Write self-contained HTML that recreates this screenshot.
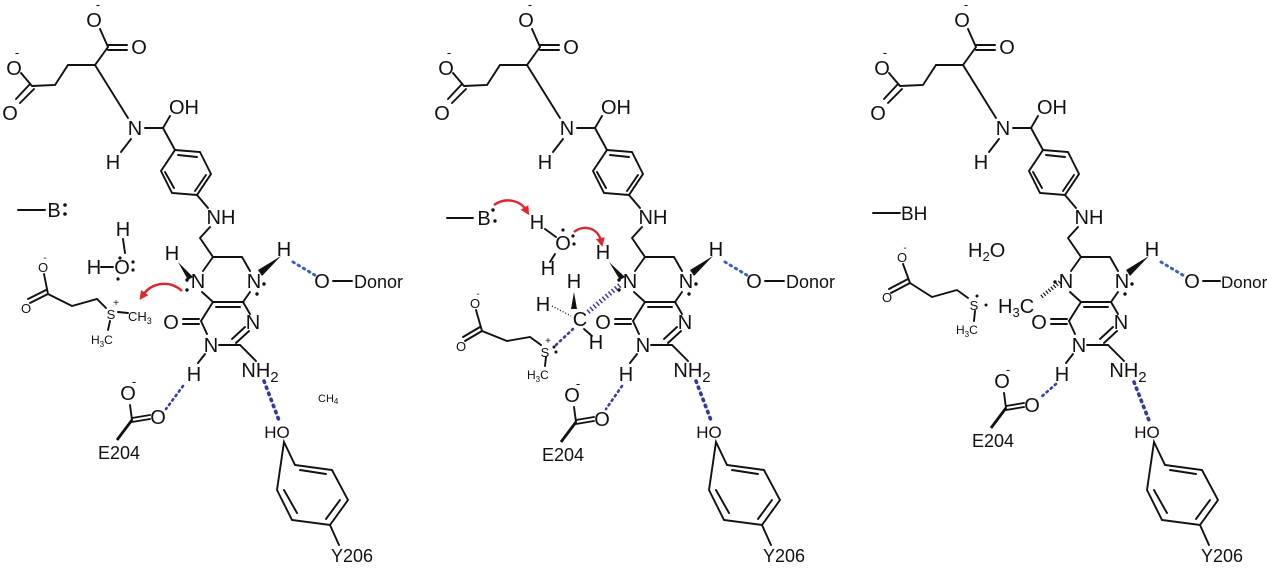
<!DOCTYPE html>
<html><head><meta charset="utf-8"><style>
html,body{margin:0;padding:0;background:#fff;}
svg{display:block;font-family:"Liberation Sans",Arial,sans-serif;}
.b{stroke:#111;stroke-width:1.9;fill:none;stroke-linecap:round}
.t{font-size:20px;fill:#111;text-anchor:middle}
.s{font-size:13px;fill:#111;text-anchor:middle}
.hb{stroke:#3a62c0;stroke-width:3;stroke-dasharray:1.5,4.5;fill:none;stroke-linecap:round}
.hn{stroke:#3a3f9e;stroke-width:2.6;stroke-dasharray:1.5,4;fill:none;stroke-linecap:round}
.hn2{stroke:#333a9e;stroke-width:3.6;stroke-dasharray:1.5,5;fill:none;stroke-linecap:round}
.r{stroke:#e0262a;stroke-width:2.4;fill:none}
</style></head><body>
<svg width="1267" height="568" viewBox="0 0 1267 568" xmlns="http://www.w3.org/2000/svg">
<defs>
<marker id="ah" markerUnits="userSpaceOnUse" markerWidth="9" markerHeight="9" refX="3" refY="4.5" orient="auto"><path d="M0,0 L9,4.5 L0,9 z" fill="#e0262a"/></marker>
</defs>

<!-- ================= PANEL 1 ================= -->
<g id="p1">
<text class="t" x="94" y="27">O</text><text class="s" x="98" y="9">-</text>
<path class="b" d="M108,47 L100,29 M108,45 L127,45 M108,50 L127,50 M108,47 L95,65 L68,65 L55,85 L32,86 M32,86 L21,73 M30,84 L16,99 M34,89 L20,103 M95,65 L128,118"/>
<text class="t" x="139" y="54">O</text>
<text class="t" x="14" y="75">O</text><text class="s" x="17" y="57">-</text>
<text class="t" x="10" y="120">O</text>
<text class="t" x="135" y="135">N</text>
<path class="b" d="M131,139 L121,152 M145,128 L163,128 L170,116 M163,128 L175,150"/>
<text class="t" x="113" y="169">H</text>
<text class="t" x="184" y="114">OH</text>
<path class="b" d="M175,150 L200,152 L211,174 L197,195 L172,193 L161,171 Z M178,155 L197,157 M206,175 L195,191 M174,188 L165,172 M197,195 L208,208"/>
<text class="t" x="221" y="224">NH</text>
<path class="b" d="M210,227 L200,238 L213,257 L242,257 L250,271 M213,257 L203,271 M202,292 L213,302 L243,302 L250,292 M216,307 L240,307 M213,302 L201,321 L207,334 M243,302 L250,314 M236,343 L249,331 M232,339 L245,327 M219,345 L240,345 L256,361 M199,319 L183,319 M199,324 L183,324 M205,354 L198,363"/>
<text class="t" x="198" y="288">N</text>
<text class="t" x="254" y="288">N</text>
<circle cx="264" cy="284" r="1.7" fill="#111"/><circle cx="257" cy="294" r="1.7" fill="#111"/>
<circle cx="187" cy="280" r="1.7" fill="#111"/><circle cx="187" cy="290" r="1.7" fill="#111"/>
<text class="t" x="171" y="329">O</text>
<text class="t" x="253" y="329">N</text>
<text class="t" x="211" y="352">N</text>
<text class="t" x="194" y="381">H</text>
<text class="t" x="260" y="377">NH<tspan font-size="15" dy="5">2</tspan></text>
<text class="t" x="284" y="256">H</text>
<path d="M281,256 L262,276 L258,270 Z" fill="#111"/>
<path class="hb" d="M293,262 L318,277"/>
<text class="t" x="322" y="288">O</text>
<path class="b" d="M333,281 L352,281"/>
<text x="354" y="288" style="font-size:18px;fill:#111">Donor</text>
<text class="t" x="128" y="400">O</text><text class="s" x="134" y="386">-</text>
<path class="b" d="M130,405 L132,420 M132,418 L150,415 M132,422 L150,419"/>
<path d="M132,420 L117,440" stroke="#111" stroke-width="2.8"/>
<text class="t" x="158" y="424">O</text>
<text x="119" y="459" style="font-size:18px;fill:#111;text-anchor:middle">E204</text>
<path class="hn" d="M183,386 L166,409"/>
<path class="hn2" d="M264,381 L280,423"/>
<text x="277" y="438" style="font-size:17px;fill:#111;text-anchor:middle">HO</text>
<path class="b" d="M284,442 L295,465 L332,470 L348,500 L330,525 L292,520 L277,490 Z M300,470 L326,474 M340,500 L326,519 M284,490 L297,513 M330,525 L339,545"/>
<text x="352" y="562" style="font-size:18px;fill:#111;text-anchor:middle">Y206</text>
</g>

<!-- panel 1 specifics -->
<path class="b" d="M18,210 L45,210"/>
<text class="t" x="54" y="217">B</text>
<circle cx="65" cy="205" r="1.8" fill="#111"/><circle cx="65" cy="214" r="1.8" fill="#111"/>
<text class="t" x="123" y="236">H</text>
<path class="b" d="M123,239 L125,253 M101,267 L113,267"/>
<text class="t" x="94" y="274">H</text>
<text class="t" x="122" y="274">O</text>
<circle cx="120" cy="258" r="1.6" fill="#111"/><circle cx="133" cy="262" r="1.6" fill="#111"/><circle cx="133" cy="270" r="1.6" fill="#111"/><circle cx="118" cy="279" r="1.6" fill="#111"/>
<text class="t" x="172" y="260">H</text>
<path d="M178,262 L193,277 L188,280 Z" fill="#111"/>
<path class="r" d="M182,291 C170,280 152,282 143,295" marker-end="url(#ah)"/>
<text class="s" x="43" y="272">O</text><text class="s" x="45" y="261" style="font-size:10px">-</text>
<path class="b" d="M44,274 L48,294 M48,294 L30,303 M46,290 L28,299 M48,294 L72,306 L97,299 L106,308 M118,312 L128,313 M110,321 L108,330"/>
<text class="s" x="26" y="313">O</text>
<text class="s" x="111" y="319">S</text><text class="s" x="116" y="306" style="font-size:10px">+</text>
<text x="128" y="321" style="font-size:13px;fill:#111">CH<tspan font-size="9" dy="3">3</tspan></text>
<text x="91" y="344" style="font-size:12px;fill:#111">H<tspan font-size="8" dy="3">3</tspan><tspan dy="-3">C</tspan></text>
<text x="318" y="402" style="font-size:11px;fill:#111">CH<tspan font-size="8" dy="2">4</tspan></text>

<!-- ================= PANEL 2 ================= -->
<g transform="translate(432,0)">
<text class="t" x="94" y="27">O</text><text class="s" x="98" y="9">-</text>
<path class="b" d="M108,47 L100,29 M108,45 L127,45 M108,50 L127,50 M108,47 L95,65 L68,65 L55,85 L32,86 M32,86 L21,73 M30,84 L16,99 M34,89 L20,103 M95,65 L128,118"/>
<text class="t" x="139" y="54">O</text>
<text class="t" x="14" y="75">O</text><text class="s" x="17" y="57">-</text>
<text class="t" x="10" y="120">O</text>
<text class="t" x="135" y="135">N</text>
<path class="b" d="M131,139 L121,152 M145,128 L163,128 L170,116 M163,128 L175,150"/>
<text class="t" x="113" y="169">H</text>
<text class="t" x="184" y="114">OH</text>
<path class="b" d="M175,150 L200,152 L211,174 L197,195 L172,193 L161,171 Z M178,155 L197,157 M206,175 L195,191 M174,188 L165,172 M197,195 L208,208"/>
<text class="t" x="221" y="224">NH</text>
<path class="b" d="M210,227 L200,238 L213,257 L242,257 L250,271 M213,257 L203,271 M202,292 L213,302 L243,302 L250,292 M216,307 L240,307 M213,302 L201,321 L207,334 M243,302 L250,314 M236,343 L249,331 M232,339 L245,327 M219,345 L240,345 L256,361 M199,319 L183,319 M199,324 L183,324 M205,354 L198,363"/>
<text class="t" x="198" y="288">N</text>
<text class="t" x="254" y="288">N</text>
<circle cx="264" cy="284" r="1.7" fill="#111"/><circle cx="257" cy="294" r="1.7" fill="#111"/>
<circle cx="187" cy="280" r="1.7" fill="#111"/><circle cx="187" cy="290" r="1.7" fill="#111"/>
<text class="t" x="171" y="329">O</text>
<text class="t" x="253" y="329">N</text>
<text class="t" x="211" y="352">N</text>
<text class="t" x="194" y="381">H</text>
<text class="t" x="260" y="377">NH<tspan font-size="15" dy="5">2</tspan></text>
<text class="t" x="284" y="256">H</text>
<path d="M281,256 L262,276 L258,270 Z" fill="#111"/>
<path class="hb" d="M293,262 L318,277"/>
<text class="t" x="322" y="288">O</text>
<path class="b" d="M333,281 L352,281"/>
<text x="354" y="288" style="font-size:18px;fill:#111">Donor</text>
<g transform="translate(12,2)">
<text class="t" x="128" y="400">O</text><text class="s" x="134" y="386">-</text>
<path class="b" d="M130,405 L132,420 M132,418 L150,415 M132,422 L150,419"/>
<path d="M132,420 L117,440" stroke="#111" stroke-width="2.8"/>
<text class="t" x="158" y="424">O</text>
<text x="119" y="459" style="font-size:18px;fill:#111;text-anchor:middle">E204</text>
</g>
<path class="hn" d="M190,386 L174,409"/>
<path class="hn2" d="M264,381 L280,423"/>
<text x="277" y="438" style="font-size:17px;fill:#111;text-anchor:middle">HO</text>
<path class="b" d="M284,442 L295,465 L332,470 L348,500 L330,525 L292,520 L277,490 Z M300,470 L326,474 M340,500 L326,519 M284,490 L297,513 M330,525 L339,545"/>
<text x="352" y="562" style="font-size:18px;fill:#111;text-anchor:middle">Y206</text>
</g>

<!-- panel 2 specifics -->
<path class="b" d="M447,218 L473,218"/>
<text class="t" x="484" y="225">B</text>
<circle cx="493" cy="210" r="1.7" fill="#111"/><circle cx="495" cy="221" r="1.7" fill="#111"/>
<path class="r" d="M494,205 C505,197 520,200 526,210" marker-end="url(#ah)"/>
<text class="t" x="537" y="229">H</text>
<path class="b" d="M545,229 L556,237 M555,254 L550,262"/>
<text class="t" x="563" y="250">O</text>
<circle cx="563" cy="230" r="1.6" fill="#111"/><circle cx="574" cy="244" r="1.6" fill="#111"/><circle cx="573" cy="236" r="1.6" fill="#111"/>
<text class="t" x="548" y="275">H</text>
<path class="r" d="M574,232 C584,224 598,228 601,241" marker-end="url(#ah)"/>
<text class="t" x="603" y="259">H</text>
<path d="M609,262 L625,277 L620,280 Z" fill="#111"/>
<text class="t" x="574" y="288">H</text>
<path d="M574,292 L571,309 L577,309 Z" fill="#111"/>
<text class="t" x="580" y="326">C</text>
<text class="t" x="543" y="311">H</text>
<path d="M552,306 L571,316" stroke="#111" stroke-width="1.3" stroke-dasharray="1,2"/>
<path class="b" d="M584,329 L592,336"/>
<text class="t" x="596" y="349">H</text>
<path d="M588,312 L620,285" stroke="#3a3f9e" stroke-width="5" stroke-dasharray="1.5,2.5" fill="none"/>
<path class="hn" d="M556,345 L573,329"/>
<text class="s" x="475" y="308">O</text><text class="s" x="478" y="297" style="font-size:10px">-</text>
<path class="b" d="M476,310 L482,331 M482,331 L465,341 M480,327 L463,337 M482,331 L507,341 L530,337 L541,345 M546,357 L545,366"/>
<text class="s" x="461" y="351">O</text>
<text class="s" x="545" y="357">S</text><text class="s" x="548" y="344" style="font-size:10px">+</text>
<circle cx="554" cy="347" r="1.5" fill="#111"/><circle cx="556" cy="352" r="1.5" fill="#111"/>
<text x="527" y="379" style="font-size:12px;fill:#111">H<tspan font-size="8" dy="3">3</tspan><tspan dy="-3">C</tspan></text>

<!-- ================= PANEL 3 ================= -->
<g transform="translate(868,0)">
<text class="t" x="94" y="27">O</text><text class="s" x="98" y="9">-</text>
<path class="b" d="M108,47 L100,29 M108,45 L127,45 M108,50 L127,50 M108,47 L95,65 L68,65 L55,85 L32,86 M32,86 L21,73 M30,84 L16,99 M34,89 L20,103 M95,65 L128,118"/>
<text class="t" x="139" y="54">O</text>
<text class="t" x="14" y="75">O</text><text class="s" x="17" y="57">-</text>
<text class="t" x="10" y="120">O</text>
<text class="t" x="135" y="135">N</text>
<path class="b" d="M131,139 L121,152 M145,128 L163,128 L170,116 M163,128 L175,150"/>
<text class="t" x="113" y="169">H</text>
<text class="t" x="184" y="114">OH</text>
<path class="b" d="M175,150 L200,152 L211,174 L197,195 L172,193 L161,171 Z M178,155 L197,157 M206,175 L195,191 M174,188 L165,172 M197,195 L208,208"/>
<text class="t" x="221" y="224">NH</text>
<path class="b" d="M210,227 L200,238 L213,257 L242,257 L250,271 M213,257 L203,271 M202,292 L213,302 L243,302 L250,292 M216,307 L240,307 M213,302 L201,321 L207,334 M243,302 L250,314 M236,343 L249,331 M232,339 L245,327 M219,345 L240,345 L256,361 M199,319 L183,319 M199,324 L183,324 M205,354 L198,363"/>
<text class="t" x="198" y="288">N</text>
<text class="t" x="254" y="288">N</text>
<circle cx="264" cy="284" r="1.7" fill="#111"/><circle cx="257" cy="294" r="1.7" fill="#111"/>
<circle cx="187" cy="282" r="1.7" fill="#111"/>
<text class="t" x="171" y="329">O</text>
<text class="t" x="253" y="329">N</text>
<text class="t" x="211" y="352">N</text>
<text class="t" x="194" y="381">H</text>
<text class="t" x="260" y="377">NH<tspan font-size="15" dy="5">2</tspan></text>
<text class="t" x="284" y="256">H</text>
<path d="M281,256 L262,276 L258,270 Z" fill="#111"/>
<path class="hb" d="M293,262 L318,277"/>
<text class="t" x="324" y="288">O</text>
<path class="b" d="M335,281 L352,281"/>
<text x="353" y="288" style="font-size:17px;fill:#111">Donor</text>
<g transform="translate(6,-12)">
<text class="t" x="128" y="400">O</text><text class="s" x="134" y="386">-</text>
<path class="b" d="M130,405 L132,420 M132,418 L150,415 M132,422 L150,419"/>
<path d="M132,420 L117,440" stroke="#111" stroke-width="2.8"/>
<text class="t" x="158" y="424">O</text>
<text x="119" y="459" style="font-size:18px;fill:#111;text-anchor:middle">E204</text>
</g>
<path class="hn" d="M188,384 L172,398"/>
<path class="hn2" d="M266,382 L282,423"/>
<text x="279" y="438" style="font-size:17px;fill:#111;text-anchor:middle">HO</text>
<path class="b" d="M286,442 L297,465 L334,470 L350,500 L332,525 L294,520 L279,490 Z M302,470 L328,474 M342,500 L328,519 M286,490 L299,513 M332,525 L341,545"/>
<text x="354" y="562" style="font-size:18px;fill:#111;text-anchor:middle">Y206</text>
</g>

<!-- panel 3 specifics -->
<path class="b" d="M873,213 L900,213"/>
<text x="901" y="220" style="font-size:19px;fill:#111">BH</text>
<text x="968" y="257" style="font-size:20px;fill:#111">H<tspan font-size="13" dy="4">2</tspan><tspan dy="-4">O</tspan></text>
<text x="998" y="313" style="font-size:20px;fill:#111">H<tspan font-size="13" dy="4">3</tspan><tspan dy="-4">C</tspan></text>
<path d="M1060,282 L1040,298" stroke="#111" stroke-width="4" stroke-dasharray="1.2,2" fill="none"/>
<text class="s" x="902" y="262">O</text><text class="s" x="905" y="251" style="font-size:10px">-</text>
<path class="b" d="M903,264 L910,283 M910,283 L891,293 M908,279 L889,289 M910,283 L932,297 L957,290 L968,298 M975,311 L974,321"/>
<text class="s" x="887" y="302">O</text>
<text class="s" x="974" y="310">S</text>
<circle cx="977" cy="296" r="1.5" fill="#111"/><circle cx="986" cy="305" r="1.5" fill="#111"/>
<text x="956" y="334" style="font-size:12px;fill:#111">H<tspan font-size="8" dy="3">3</tspan><tspan dy="-3">C</tspan></text>
</svg>
</body></html>
